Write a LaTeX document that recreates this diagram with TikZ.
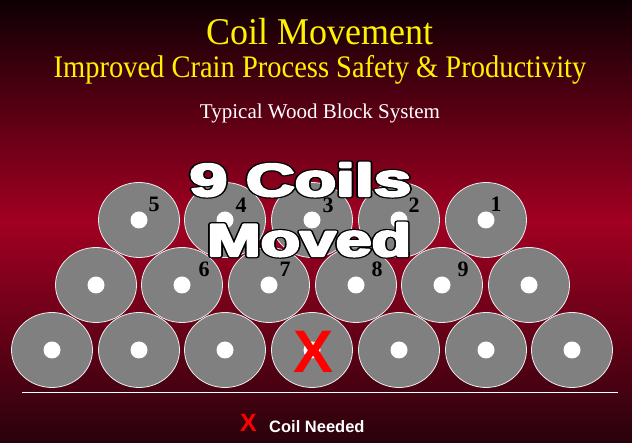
\documentclass[tikz,border=0pt]{standalone}
\usepackage{fontspec}
\setmainfont{Liberation Serif}
\setsansfont{Liberation Sans}
\usepackage{graphicx}
\usetikzlibrary{shapes.geometric}

\definecolor{slidered}{RGB}{162,0,34}
\definecolor{slidetop}{RGB}{14,0,4}
\definecolor{slidebot}{RGB}{40,2,12}
\definecolor{coilgray}{RGB}{128,128,128}

% heavy white letters with a thin black rim
\newcommand{\outlined}[1]{\rlap{\special{pdf:literal direct q 0 G 0 g 4.6 w 1 j 2 Tr}#1\special{pdf:literal direct Q}}%
  \special{pdf:literal direct q 1 G 1 g 2.2 w 1 j 2 Tr}#1\special{pdf:literal direct Q}}

\tikzset{
  coil/.style={ellipse, draw=white!85!gray, line width=0.8pt, fill=coilgray,
    minimum width=81pt, minimum height=75pt, inner sep=0pt,
    path picture={\fill[white] (path picture bounding box.center) circle (8.5pt);}},
  num/.style={font=\bfseries\fontsize{22}{22}\selectfont, text=black, inner sep=0pt},
  bigword/.style={anchor=base, inner sep=0pt, text=white, font=\sffamily\bfseries\fontsize{46}{46}\selectfont},
}

\begin{document}
\begin{tikzpicture}[x=1pt,y=-1pt]
\shade[top color=slidetop, bottom color=slidered] (0,0) rectangle (632,222);
\shade[top color=slidered, bottom color=slidebot] (0,221) rectangle (632,443);
\useasboundingbox (0,0) rectangle (632,443);

\node (title) [anchor=base, text=yellow, font=\fontsize{36}{36}\selectfont] at (320,45) {\scalebox{1}[1.05]{Coil Movement}};
\node (subtitle) [anchor=base, text=yellow, font=\fontsize{28.5}{28}\selectfont] at (320,78) {\scalebox{1}[1.1]{Improved Crain Process Safety \& Productivity}};
\node (system) [anchor=base, text=white, font=\fontsize{21}{21}\selectfont] at (320,119) {Typical Wood Block System};

% top row
\node[coil] (top5) at (139,220) {};
\node[coil] (top4) at (225,220) {};
\node[coil] (top3) at (312,220) {};
\node[coil] (top2) at (399,220) {};
\node[coil] (top1) at (486,220) {};
% middle row
\node[coil] (midl) at (96,285) {};
\node[coil] (mid6) at (182,285) {};
\node[coil] (mid7) at (269,285) {};
\node[coil] (mid8) at (356,285) {};
\node[coil] (mid9) at (442,285) {};
\node[coil] (midr) at (529,285) {};
% bottom row
\node[coil] (bot1) at (52,350) {};
\node[coil] (bot2) at (139,350) {};
\node[coil] (bot3) at (225,350) {};
\node[coil] (bot4) at (312,350) {};
\node[coil] (bot5) at (399,350) {};
\node[coil] (bot6) at (486,350) {};
\node[coil] (bot7) at (572,350) {};

\node[num] (n5) at ([shift={(15,-16)}]top5.center) {5};
\node[num] (n4) at ([shift={(16,-15)}]top4.center) {4};
\node[num] (n3) at ([shift={(16,-15)}]top3.center) {3};
\node[num] (n2) at ([shift={(15,-15)}]top2.center) {2};
\node[num] (n1) at ([shift={(10,-16)}]top1.center) {1};
\node[num] (n6) at ([shift={(22,-16)}]mid6.center) {6};
\node[num] (n7) at ([shift={(16,-16)}]mid7.center) {7};
\node[num] (n8) at ([shift={(21,-16)}]mid8.center) {8};
\node[num] (n9) at ([shift={(21,-16)}]mid9.center) {9};

\node (needed) [text=red, inner sep=0pt, font=\sffamily\bfseries\fontsize{60}{60}\selectfont] at (314,352) {X};

\node (nine) [bigword] at (300.5,196) {\scalebox{1.47}[1]{\outlined{9 Coils}}};
\node (moved) [bigword] at (309,256) {\scalebox{1.4}[1]{\outlined{Moved}}};

\coordinate (lineL) at (22,393);
\coordinate (lineR) at (618,393);
\draw[white, line width=1pt] (lineL) -- (lineR);

\node (keyx) [text=red, inner sep=0pt, font=\sffamily\bfseries\fontsize{25}{25}\selectfont] at (248.5,423) {X};
\node (keytext) [anchor=base west, text=white, inner sep=0pt, font=\sffamily\bfseries\fontsize{16.5}{16.5}\selectfont] at (269,432) {Coil Needed};
\end{tikzpicture}
\end{document}
